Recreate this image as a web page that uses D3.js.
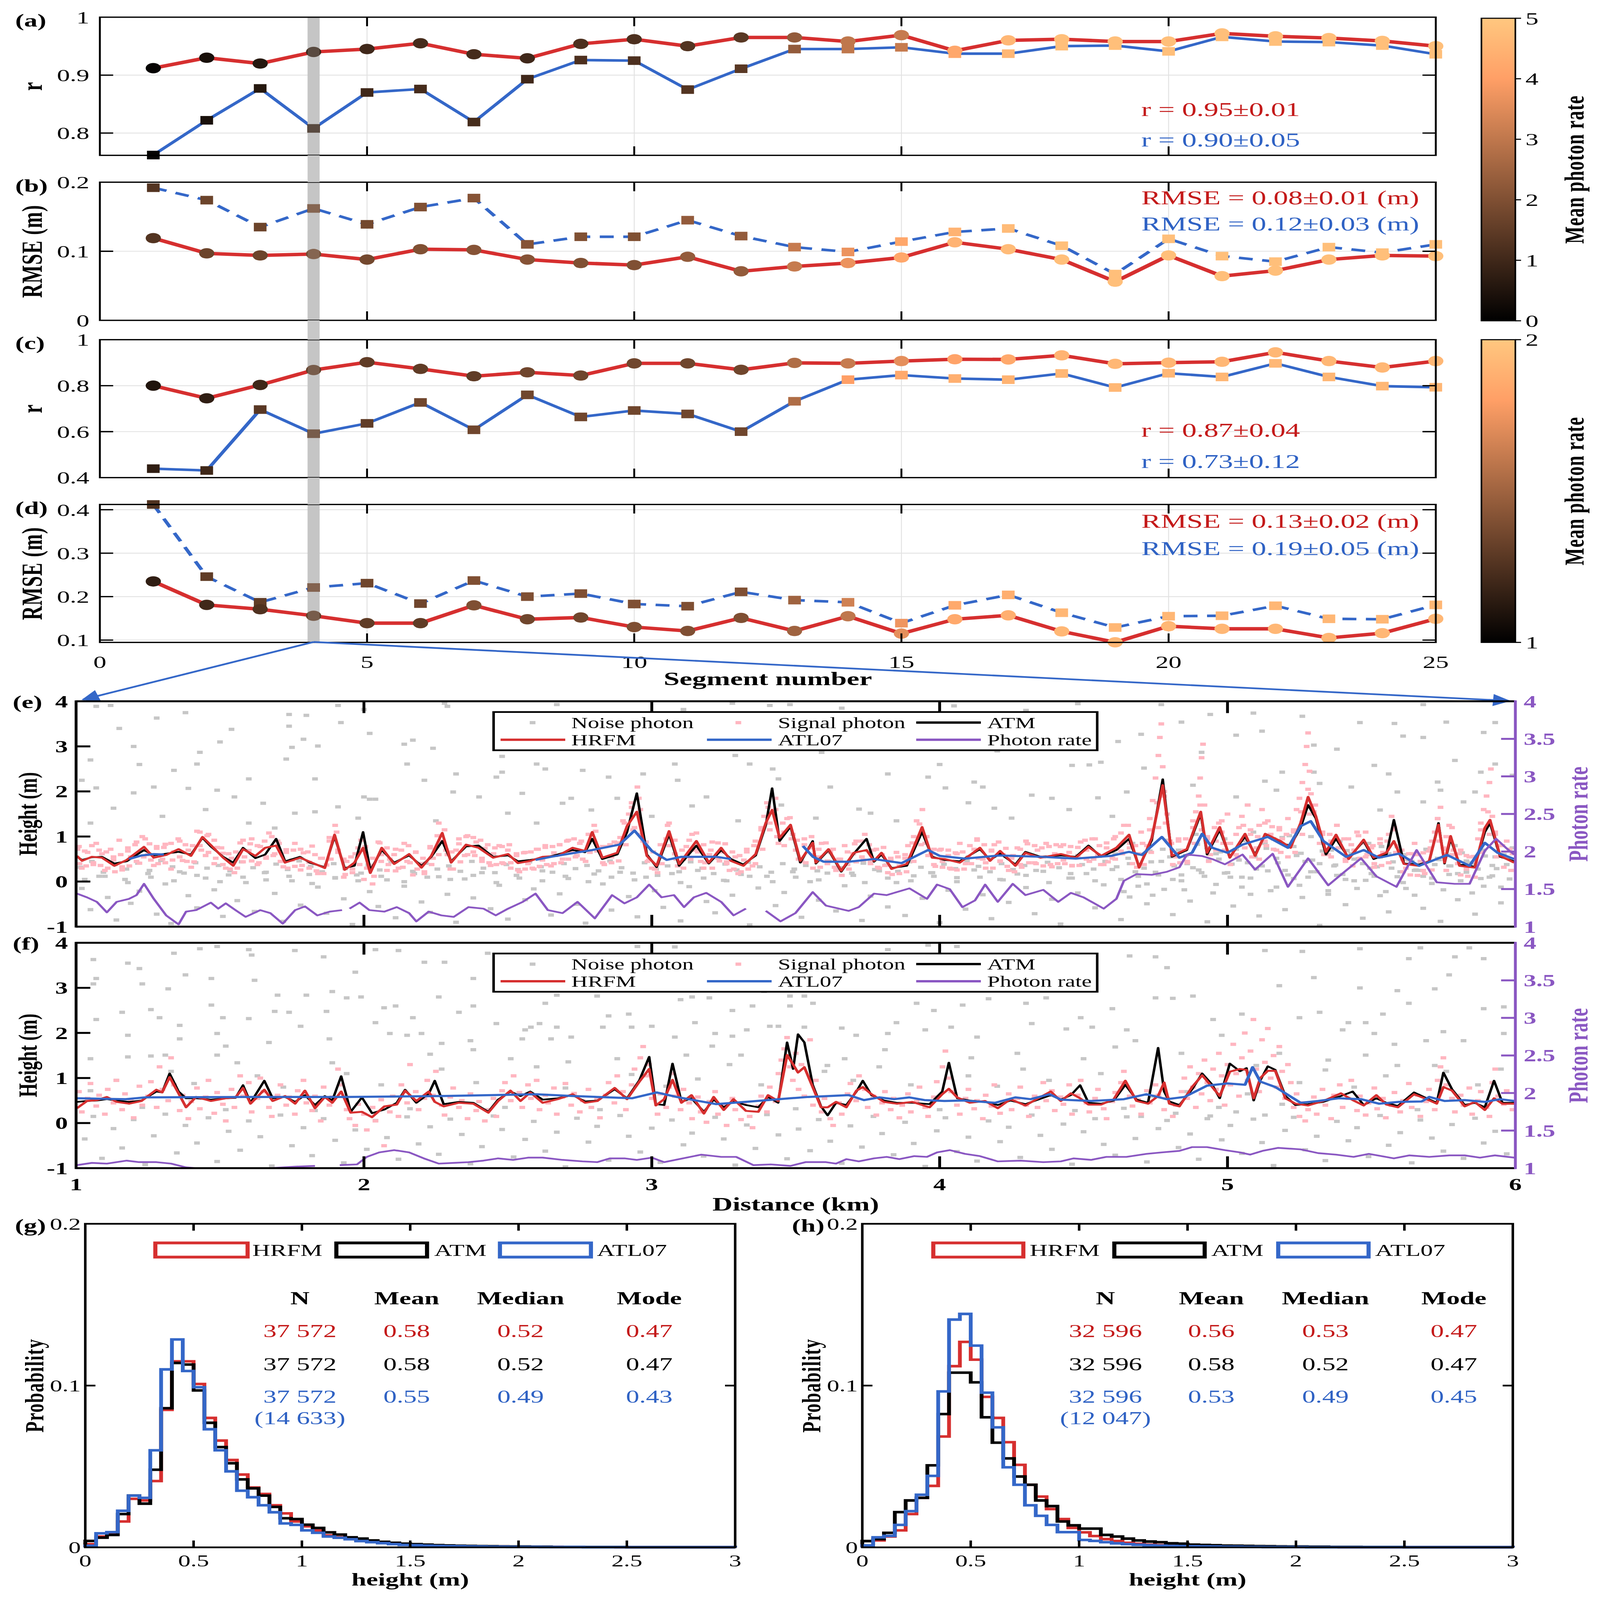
<!DOCTYPE html>
<html>
<head>
<meta charset="utf-8">
<script src="https://d3js.org/d3.v7.min.js"></script>
<style>
html,body{margin:0;padding:0;background:#fff;overflow:hidden;}
svg{display:block;width:100vw;height:100vh;font-family:"Liberation Serif","Times New Roman",serif;}
</style>
</head>
<body>
<div id="chart"></div>
<script>
// ---------------- data: segment statistics (a)-(d) ----------------
const segments = [1,2,3,4,5,6,7,8,9,10,11,12,13,14,15,16,17,18,19,20,21,22,23,24,25];

const rA_hrfm = [0.912,0.930,0.920,0.940,0.945,0.955,0.936,0.929,0.954,0.962,0.950,0.965,0.965,0.958,0.969,0.942,0.960,0.962,0.958,0.958,0.972,0.967,0.964,0.959,0.950];
const rA_atl  = [0.762,0.822,0.877,0.808,0.870,0.876,0.819,0.893,0.926,0.925,0.875,0.911,0.945,0.945,0.948,0.937,0.937,0.950,0.951,0.941,0.966,0.958,0.957,0.951,0.936];
const rmseB_hrfm = [0.119,0.097,0.094,0.096,0.088,0.103,0.102,0.088,0.083,0.080,0.092,0.071,0.078,0.083,0.091,0.113,0.103,0.088,0.056,0.094,0.064,0.072,0.088,0.094,0.093];
const rmseB_atl  = [0.192,0.174,0.135,0.162,0.139,0.164,0.177,0.110,0.121,0.121,0.145,0.122,0.106,0.099,0.114,0.128,0.133,0.108,0.067,0.118,0.093,0.085,0.106,0.098,0.110];
const rC_hrfm = [0.800,0.745,0.803,0.868,0.902,0.873,0.841,0.858,0.844,0.897,0.897,0.869,0.899,0.897,0.907,0.915,0.914,0.932,0.895,0.900,0.904,0.945,0.907,0.879,0.907];
const rC_atl  = [0.439,0.431,0.696,0.591,0.636,0.727,0.608,0.760,0.664,0.692,0.677,0.600,0.732,0.826,0.846,0.831,0.826,0.853,0.792,0.854,0.838,0.897,0.838,0.798,0.793];
const rmseD_hrfm = [0.235,0.181,0.171,0.156,0.139,0.139,0.180,0.148,0.152,0.130,0.121,0.151,0.121,0.155,0.115,0.148,0.157,0.120,0.095,0.132,0.126,0.126,0.105,0.116,0.149];
const rmseD_atl  = [0.412,0.246,0.187,0.221,0.231,0.184,0.237,0.200,0.207,0.183,0.178,0.211,0.192,0.187,0.139,0.180,0.204,0.163,0.129,0.155,0.156,0.179,0.149,0.148,0.181];

// mean photon rate per segment (marker colour)
const rateA = [0.1,0.4,0.6,0.9,1.0,1.1,1.1,1.0,1.2,1.2,1.3,1.4,2.3,3.0,3.1,4.2,4.6,4.8,4.8,4.8,4.8,4.8,4.8,4.8,4.8];
const rateB = [1.3,1.7,1.7,1.8,1.8,2.0,2.1,2.1,2.0,2.0,2.3,2.3,3.1,3.7,4.2,4.5,4.7,4.8,4.8,4.8,4.8,4.8,4.8,4.8,4.8];
const rateC_hrfm = [1.10,1.15,1.20,1.30,1.30,1.30,1.30,1.35,1.35,1.35,1.35,1.35,1.55,1.62,1.72,1.82,1.85,1.90,1.92,1.92,1.92,1.92,1.92,1.92,1.92];
const rateC_atl  = [1.15,1.20,1.28,1.30,1.30,1.35,1.35,1.35,1.35,1.35,1.35,1.35,1.55,1.80,1.85,1.88,1.90,1.92,1.92,1.92,1.92,1.92,1.92,1.92,1.92];
const rateD_hrfm = [1.15,1.20,1.25,1.30,1.30,1.30,1.40,1.35,1.35,1.40,1.40,1.40,1.50,1.60,1.72,1.85,1.88,1.92,1.92,1.92,1.92,1.92,1.92,1.92,1.92];
const rateD_atl  = [1.25,1.30,1.30,1.35,1.35,1.35,1.40,1.40,1.40,1.40,1.40,1.40,1.50,1.65,1.75,1.85,1.88,1.92,1.92,1.92,1.92,1.92,1.92,1.92,1.92];

// ---------------- data: profile (e) ----------------
const eDist = [1.003,1.021,1.055,1.090,1.133,1.176,1.236,1.270,1.313,1.356,
  1.399,1.439,1.468,1.511,1.546,1.580,1.623,1.657,1.695,1.726,
  1.778,1.812,1.864,1.898,1.933,1.967,1.997,2.022,2.062,2.105,
  2.157,2.200,2.234,2.272,2.303,2.355,2.398,2.449,2.501,2.535,
  2.578,2.621,2.673,2.725,2.768,2.793,2.828,2.880,2.914,2.948,
  2.983,3.017,3.060,3.095,3.155,3.198,3.241,3.275,3.318,3.361,
  3.396,3.418,3.444,3.482,3.516,3.559,3.570,3.614,3.658,3.702,
  3.746,3.772,3.798,3.833,3.886,3.939,3.974,4.017,4.070,4.140,
  4.175,4.210,4.263,4.298,4.351,4.421,4.473,4.517,4.561,4.614,
  4.658,4.693,4.737,4.775,4.807,4.859,4.907,4.929,4.973,5.008,
  5.061,5.096,5.131,5.184,5.219,5.254,5.280,5.307,5.342,5.377,
  5.421,5.473,5.508,5.552,5.578,5.613,5.666,5.701,5.733,5.754,
  5.775,5.806,5.859,5.894,5.912,5.947,5.996];
const eHRFM = [0.57,0.46,0.55,0.53,0.35,0.48,0.77,0.53,0.59,0.72,
  0.57,0.99,0.81,0.53,0.35,0.72,0.57,0.75,0.80,0.42,
  0.53,0.44,0.30,1.04,0.26,0.42,0.75,0.19,0.75,0.39,
  0.61,0.31,0.57,1.08,0.42,0.82,0.75,0.53,0.61,0.41,
  0.46,0.55,0.57,0.75,0.68,1.10,0.53,0.64,1.23,1.55,
  0.57,0.35,1.12,0.39,0.90,0.42,0.75,0.46,0.35,0.61,
  1.30,1.59,0.97,1.26,0.46,0.86,0.42,0.72,0.24,0.64,
  0.70,0.46,0.64,0.28,0.39,1.21,0.53,0.50,0.42,0.75,
  0.46,0.68,0.35,0.64,0.53,0.61,0.53,0.77,0.57,0.75,
  1.04,0.31,0.97,2.14,0.57,0.72,1.55,0.64,1.21,0.53,
  1.06,0.57,1.06,0.90,0.75,1.30,1.88,1.45,0.66,1.04,
  0.50,0.93,0.53,0.64,0.90,0.39,0.35,0.46,1.26,0.42,
  1.01,0.35,0.31,1.19,1.37,0.57,0.42];
const eATM = [0.55,0.48,0.54,0.55,0.40,0.45,0.70,0.58,0.62,0.66,
  0.60,0.97,0.78,0.55,0.42,0.75,0.52,0.60,0.95,0.45,
  0.55,0.42,0.32,1.00,0.30,0.35,1.10,0.25,0.70,0.42,
  0.58,0.35,0.55,0.90,0.45,0.78,0.80,0.55,0.58,0.45,
  0.48,0.52,0.60,0.70,0.65,0.95,0.50,0.60,1.10,1.96,
  0.60,0.32,1.05,0.35,0.80,0.40,0.70,0.50,0.38,0.58,
  1.25,2.07,0.90,1.22,0.42,0.90,0.40,0.70,0.22,0.62,
  0.95,0.44,0.60,0.30,0.35,1.10,0.55,0.48,0.45,0.72,
  0.48,0.62,0.38,0.66,0.55,0.58,0.55,0.80,0.55,0.70,
  0.95,0.33,0.92,2.27,0.55,0.70,1.50,0.60,1.15,0.55,
  1.00,0.60,1.05,0.85,0.80,1.20,1.70,1.40,0.60,0.95,
  0.52,0.90,0.50,0.60,1.37,0.40,0.38,0.45,1.30,0.40,
  0.95,0.38,0.33,1.10,1.30,0.55,0.45];
const eAtlDist = [1.184,1.227,1.270,1.305,1.900,
  2.596,2.650,2.707,2.793,2.888,2.940,3.000,3.052,3.103,3.224,3.275,3.400,
  3.525,3.560,3.597,3.684,3.772,3.868,3.960,4.000,4.088,4.210,
  4.351,4.473,4.596,4.658,4.702,4.772,4.833,4.877,4.912,4.947,
  5.000,5.052,5.140,5.210,5.254,5.289,5.333,5.412,5.473,5.526,
  5.596,5.666,5.763,5.841,5.894,5.938,5.996];
const eAtl = [0.50,0.58,0.61,0.60,null,
  0.48,0.55,0.61,0.70,0.82,1.13,0.68,0.48,0.55,0.55,0.50,null,
  0.79,0.55,0.44,0.44,0.50,0.41,0.70,0.57,0.51,0.58,
  0.55,0.51,0.57,0.66,0.59,0.99,0.53,0.64,1.06,0.75,
  0.64,0.82,0.99,0.75,1.23,1.34,0.90,0.55,0.70,0.53,
  0.62,0.35,0.59,0.35,0.86,0.64,0.50];
const eRateDist = [1.003,1.038,1.072,1.107,1.141,1.184,1.210,1.236,1.270,1.313,
  1.356,1.382,1.417,1.468,1.494,1.520,1.554,1.589,1.640,1.675,
  1.718,1.761,1.795,1.838,1.881,1.924,1.937,1.950,1.985,2.019,
  2.071,2.114,2.157,2.182,2.225,2.269,2.312,2.363,2.415,2.458,
  2.501,2.552,2.596,2.639,2.690,2.742,2.802,2.862,2.905,2.948,
  2.991,3.034,3.077,3.112,3.146,3.189,3.241,3.284,3.327,3.360,
  3.396,3.447,3.499,3.559,3.605,3.684,3.719,3.772,3.816,3.895,
  3.956,3.991,4.035,4.079,4.123,4.158,4.202,4.254,4.298,4.360,
  4.412,4.456,4.500,4.570,4.614,4.640,4.684,4.737,4.789,4.833,
  4.859,4.912,4.947,4.991,5.052,5.096,5.157,5.210,5.280,5.350,
  5.403,5.464,5.517,5.587,5.657,5.727,5.789,5.841,5.894,5.933,
  5.973,5.996];
const eRate = [1.44,1.39,1.33,1.19,1.33,1.37,1.42,1.57,1.37,1.15,
  1.03,1.20,1.22,1.32,1.24,1.31,1.22,1.13,1.22,1.18,
  1.04,1.22,1.27,1.15,1.20,1.22,null,1.24,1.32,1.22,
  1.20,1.26,1.18,1.07,1.20,1.15,1.13,1.26,1.24,1.15,
  1.24,1.33,1.44,1.22,1.18,1.33,1.11,1.42,1.31,1.39,
  1.56,1.39,1.42,1.26,1.39,1.45,1.33,1.15,1.24,null,
  1.21,1.07,1.18,1.46,1.28,1.21,1.26,1.44,1.42,1.51,
  1.37,1.56,1.50,1.26,1.35,1.56,1.33,1.57,1.42,1.49,
  1.33,1.45,1.39,1.24,1.37,1.61,1.70,1.69,1.73,1.79,
  1.96,1.94,1.90,1.83,1.96,1.76,1.97,1.53,1.91,1.55,
  1.72,1.91,1.67,1.53,2.02,1.59,1.57,1.57,2.01,2.17,
  2.03,1.96];

const eNoise = [[1.07,3.89],[1.12,3.91],[1.28,3.63],[1.54,3.38],[1.74,3.71],[1.80,3.69],[1.91,3.91],[1.92,3.53],[1.74,3.45],[1.84,3.01],[1.79,3.16],[1.75,2.98],[1.43,2.87],[1.42,2.61],[1.34,2.47],[1.20,3.00],[1.60,2.28],[1.83,2.28],[1.73,2.72],[2.02,3.29],[2.14,3.05],[2.17,3.14],[2.24,2.96],[2.29,3.89],[2.28,3.96],[2.00,3.82],[2.15,2.61],[2.21,2.25],[2.32,2.39],[2.46,2.32],[2.48,2.43],[2.60,2.61],[2.63,2.50],[2.76,2.47],[2.85,2.32],[2.97,2.39],[3.08,2.61],[3.14,3.42],[3.28,3.96],[3.41,3.91],[3.48,3.93],[3.29,2.80],[3.34,2.61],[3.42,2.50],[3.44,2.28],[3.59,2.87],[3.54,3.47],[3.11,3.82],[2.67,3.93],[2.48,2.78],[2.50,1.52],[2.69,1.74],[2.72,1.85],[3.19,1.88],[3.09,2.25],[3.14,1.68],[2.02,1.83],[2.04,1.83],[1.98,1.41],[1.91,1.66],[2.00,1.88],[1.65,1.74],[1.69,1.19],[1.27,2.10],[1.07,2.08],[1.02,2.25],[1.20,1.97],[1.13,1.63],[1.39,2.07],[1.49,2.03],[1.55,1.88],[1.83,1.55],[1.76,1.52],[2.31,1.99],[2.40,1.88],[2.55,1.96],[2.79,1.59],[2.88,1.85],
  [4.77,3.93],[4.84,3.54],[4.94,3.71],[5.09,3.74],[5.26,3.67],[5.46,3.53],[5.58,3.51],[5.68,3.93],[5.76,3.54],[5.93,3.53],[5.89,3.31],[5.68,3.20],[5.61,3.23],[5.30,3.03],[5.38,2.94],[5.12,3.34],[5.03,3.25],[4.70,3.27],[4.62,3.11],[4.46,2.58],[4.52,2.59],[4.56,2.65],[4.71,2.52],[4.91,2.87],[5.19,2.43],[5.30,2.43],[5.51,2.58],[5.56,2.39],[5.79,2.69],[5.93,2.61],[5.88,2.43],[5.99,2.36],[3.82,2.39],[3.96,2.32],[4.02,2.08],[4.15,2.10],[4.12,2.21],[4.32,1.92],[4.39,1.85],[4.19,1.63],[4.25,1.41],[3.72,1.61],[3.76,1.52],[3.57,1.41],[4.55,1.86],[4.65,1.99],[4.88,2.14],[5.13,2.23],[5.17,2.03],[5.32,2.18],[5.43,2.10],[5.73,2.21],[5.74,2.03],[5.86,1.99],[5.82,1.77],[5.68,1.77],[5.59,1.99],[5.03,1.88],[5.07,1.70],[5.53,1.59],
  [3.66,3.85],[3.90,3.62],[4.05,3.90],[4.30,3.80],[4.48,3.95],[3.70,2.95],[4.00,2.60],[4.40,3.20],[4.20,2.90],[3.62,2.10],[4.10,1.75],[4.45,1.60],[3.85,1.35],[4.60,1.45],[1.30,1.45],[1.60,1.30],[2.25,1.35],[2.60,1.30],[3.00,1.45],[3.30,1.35],[3.45,1.70],[1.05,1.30],[1.45,1.60],[2.90,3.00],[1.15,3.40],[1.38,3.75],[1.05,2.70],[1.22,2.60],[1.50,3.10],
  [1.02,-0.15],[1.05,-0.62],[1.08,0.12],[1.11,-0.35],[1.14,-0.85],[1.17,0.05],[1.19,-0.48],[1.22,-0.21],[1.25,0.18],[1.28,-0.72],[1.31,-0.05],[1.33,-0.93],[1.36,0.22],[1.39,-0.31],[1.42,-0.58],[1.45,0.08],[1.48,-0.18],[1.51,-0.77],[1.53,0.15],[1.56,-0.42],[1.59,-0.02],[1.62,-0.66],[1.66,0.21],[1.69,-0.26],[1.72,-0.88],[1.75,0.02],[1.78,-0.52],[1.81,0.16],[1.84,-0.12],[1.87,-0.70],[1.90,0.09],[1.93,-0.38],[1.96,-0.95],[1.99,0.19],[2.02,-0.22],[2.05,-0.55],[2.08,0.04],[2.11,-0.80],[2.14,-0.10],[2.17,0.23],[2.20,-0.45],[2.23,-0.68],[2.26,0.11],[2.29,-0.28],[2.32,-0.90],[2.35,0.06],[2.38,-0.36],[2.41,0.20],[2.44,-0.60],[2.47,-0.08],[2.50,-0.83],[2.53,0.14],[2.56,-0.40],[2.59,-0.16],[2.62,0.24],[2.65,-0.74],[2.68,-0.27],[2.71,0.07],[2.74,-0.50],[2.77,-0.92],[2.80,0.17],[2.83,-0.05],[2.86,-0.63],[2.89,0.21],[2.92,-0.33],[2.95,-0.78],[2.98,0.10],[3.01,-0.20],[3.04,-0.57],[3.07,0.18],[3.10,-0.87],[3.13,-0.11],[3.16,0.25],[3.19,-0.44],[3.22,-0.69],[3.25,0.03],[3.28,-0.30],[3.31,0.16],[3.34,-0.96],[3.37,-0.14],[3.40,0.12],[3.43,-0.53],[3.46,-0.24],[3.49,0.22],[3.52,-0.79],[3.55,0.00],[3.58,-0.41],[3.61,0.19],[3.64,-0.65],[3.67,-0.09],[3.70,0.14],[3.73,-0.86],[3.76,-0.32],[3.79,0.24],[3.82,-0.56],[3.85,-0.02],[3.88,-0.75],[3.91,0.13],[3.94,-0.37],[3.97,0.20],[4.00,-0.91],[4.03,-0.19],[4.06,0.09],[4.09,-0.61],[4.12,0.26],[4.15,-0.29],[4.18,-0.82],[4.21,0.05],[4.24,-0.46],[4.27,0.17],[4.30,-0.13],[4.33,-0.71],[4.36,0.23],[4.39,-0.39],[4.42,-0.94],[4.45,0.08],[4.48,-0.25],[4.51,0.18],[4.54,-0.58],[4.57,-0.07],[4.60,0.27],[4.63,-0.84],[4.66,-0.34],[4.69,0.12],[4.72,-0.49],[4.75,0.21],[4.78,-0.17],[4.81,-0.73],[4.84,0.15],[4.87,-0.43],[4.90,0.26],[4.93,-0.89],[4.96,-0.06],[4.99,0.19],[5.02,-0.54],[5.05,0.10],[5.08,-0.28],[5.11,-0.76],[5.14,0.24],[5.17,-0.12],[5.20,-0.62],[5.23,0.07],[5.26,-0.35],[5.29,0.22],[5.32,-0.97],[5.35,-0.20],[5.38,0.14],[5.41,-0.51],[5.44,0.02],[5.47,-0.81],[5.50,0.18],[5.53,-0.31],[5.56,-0.67],[5.59,0.11],[5.62,-0.15],[5.65,0.25],[5.68,-0.59],[5.71,-0.04],[5.74,-0.88],[5.77,0.16],[5.80,-0.40],[5.83,0.21],[5.86,-0.72],[5.89,-0.10],[5.92,0.13],[5.95,-0.47],[5.98,0.06],
  [1.015,0.32],[1.055,0.45],[1.095,0.21],[1.135,0.38],[1.175,0.28],[1.215,0.41],[1.255,0.25],[1.295,0.47],[1.335,0.33],[1.375,0.19],[1.415,0.42],[1.455,0.30],[1.495,0.36],[1.535,0.24],[1.575,0.44],[1.615,0.31],[1.655,0.20],[1.695,0.39],[1.735,0.27],[1.775,0.46],[1.815,0.34],[1.855,0.22],[1.895,0.40],[1.935,0.29],[1.975,0.15],[2.015,0.37],[2.055,0.26],[2.095,0.43],[2.135,0.32],[2.175,0.18],[2.215,0.41],[2.255,0.28],[2.295,0.35],[2.335,0.23],[2.375,0.45],[2.415,0.30],[2.455,0.20],[2.495,0.38],[2.535,0.27],[2.575,0.44],[2.615,0.33],[2.655,0.21],[2.695,0.40],[2.735,0.29],[2.775,0.36],[2.815,0.24],[2.855,0.46],[2.895,0.31],[2.935,0.19],[2.975,0.42],[3.015,0.28],[3.055,0.35],[3.095,0.22],[3.135,0.44],[3.175,0.30],[3.215,0.18],[3.255,0.39],[3.295,0.26],[3.335,0.43],[3.375,0.33],[3.415,0.21],[3.455,0.40],[3.495,0.28],[3.535,0.36],[3.575,0.24],[3.615,0.45],[3.655,0.31],[3.695,0.19],[3.735,0.41],[3.775,0.27],[3.815,0.37],[3.855,0.23],[3.895,0.44],[3.935,0.32],[3.975,0.20],[4.015,0.39],[4.055,0.29],[4.095,0.46],[4.135,0.34],[4.175,0.22],[4.215,0.40],[4.255,0.27],[4.295,0.36],[4.335,0.25],[4.375,0.43],[4.415,0.31],[4.455,0.18],[4.495,0.38],[4.535,0.28],[4.575,0.45],[4.615,0.33],[4.655,0.52],[4.695,0.61],[4.735,0.44],[4.775,0.72],[4.815,0.35],[4.855,0.58],[4.895,0.83],[4.935,0.47],[4.975,0.66],[5.015,0.39],[5.055,0.91],[5.095,0.55],[5.135,0.74],[5.175,0.42],[5.215,1.02],[5.255,0.63],[5.295,0.48],[5.335,0.85],[5.375,0.37],[5.415,0.69],[5.455,0.51],[5.495,0.30],[5.535,0.78],[5.575,0.44],[5.615,0.60],[5.655,0.26],[5.695,0.71],[5.735,0.49],[5.775,0.35],[5.815,0.64],[5.855,0.41],[5.895,0.57],[5.935,0.29],[5.975,0.52],
  [4.63,0.05],[4.68,0.22],[4.72,-0.05],[4.76,0.15],[4.80,0.55],[4.84,0.02],[4.88,0.31],[4.92,0.12],[4.96,0.62],[5.00,0.20],[5.04,0.48],[5.08,0.08],[5.12,0.35],[5.16,0.95],[5.20,0.25],[5.24,0.58],[5.28,0.10],[5.32,0.40],[5.36,0.70],[5.40,0.16],[5.44,0.50],[5.48,0.03],[5.52,0.33],[5.56,0.62],[5.60,0.22],[5.64,0.45],[5.68,0.12],[5.72,0.38],[5.76,0.58],[5.80,0.18],[5.84,0.42],[5.88,0.07],[5.92,0.36],[5.96,0.60],
  [4.61,0.62],[4.64,-0.22],[4.66,0.40],[4.67,0.85],[4.69,-0.10],[4.71,0.30],[4.73,0.68],[4.74,-0.30],[4.77,0.45],[4.79,0.92],[4.81,0.05],[4.83,0.70],[4.85,-0.18],[4.86,0.40],[4.89,1.05],[4.91,0.20],[4.93,0.75],[4.95,-0.25],[4.97,0.50],[4.99,0.95],[5.01,0.10],[5.03,0.72],[5.05,-0.12],[5.07,0.42],[5.09,1.10],[5.10,0.28],[5.13,0.85],[5.15,-0.20],[5.17,0.52],[5.19,0.98],[5.21,0.15],[5.23,0.78],[5.25,-0.08],[5.27,0.45],[5.29,1.00],[5.31,0.22],[5.33,0.68],[5.35,-0.28],[5.37,0.35],[5.39,0.90],[5.41,0.05],[5.43,0.62],[5.45,-0.15],[5.47,0.40],[5.49,0.85],[5.51,0.12],[5.53,0.55],[5.55,-0.22],[5.57,0.30],[5.59,0.78],[5.61,-0.02],[5.63,0.48],[5.65,-0.30],[5.67,0.25],[5.69,0.72],[5.71,0.08],[5.73,0.52],[5.75,-0.18],[5.77,0.35],[5.79,0.80],[5.81,0.02],[5.83,0.46],[5.85,-0.25],[5.87,0.28],[5.89,0.70],[5.91,0.10],[5.93,0.55],[5.95,-0.12],[5.97,0.38],[5.99,0.75],
  [1.03,0.05],[1.10,0.12],[1.18,-0.02],[1.26,0.10],[1.34,0.02],[1.42,0.14],[1.50,0.00],[1.58,0.10],[1.66,0.04],[1.74,0.12],[1.82,-0.04],[1.90,0.08],[1.98,0.02],[2.06,0.12],[2.14,0.00],[2.22,0.10],[2.30,0.05],[2.38,0.14],[2.46,-0.02],[2.54,0.08],[2.62,0.02],[2.70,0.12],[2.78,0.00],[2.86,0.10],[2.94,0.04],[3.02,0.14],[3.10,-0.02],[3.18,0.08],[3.26,0.02],[3.34,0.12],[3.42,0.00],[3.50,0.10],[3.58,0.04],[3.66,0.14],[3.74,-0.02],[3.82,0.08],[3.90,0.02],[3.98,0.12],[4.06,0.00],[4.14,0.10],[4.22,0.04],[4.30,0.14],[4.38,-0.02],[4.46,0.08],[4.54,0.02]];

const eSignal = [[1.01,0.78],[1.02,0.30],[1.04,0.65],[1.06,0.38],[1.07,0.85],[1.09,0.62],[1.10,0.25],[1.12,0.72],[1.13,0.48],[1.15,0.92],[1.16,0.33],[1.18,0.68],[1.19,0.55],[1.21,0.88],[1.22,0.41],[1.24,0.95],[1.25,0.60],[1.27,0.36],[1.28,0.74],[1.30,0.50],[1.31,0.83],[1.33,0.28],[1.34,0.66],[1.36,0.90],[1.37,0.47],[1.39,0.70],[1.40,0.32],[1.42,1.12],[1.43,0.80],[1.45,0.58],[1.46,1.05],[1.48,0.40],[1.49,0.76],[1.51,0.63],[1.52,0.30],[1.54,0.52],[1.55,0.20],[1.57,0.86],[1.58,0.44],[1.60,0.69],[1.61,0.95],[1.63,0.38],[1.64,0.78],[1.66,0.55],[1.67,1.08],[1.69,0.62],[1.70,0.90],[1.72,0.33],[1.73,0.71],[1.75,0.48],[1.76,0.85],[1.78,0.26],[1.79,0.64],[1.81,0.43],[1.82,0.79],[1.84,0.18],[1.85,0.52],[1.87,0.37],[1.88,0.98],[1.90,1.25],[1.91,0.70],[1.93,0.10],[1.94,0.45],[1.96,0.28],[1.97,0.62],[1.99,0.92],[2.00,0.05],[2.02,0.35],[2.03,-0.05],[2.05,0.88],[2.06,0.60],[2.08,0.25],[2.09,0.50],[2.11,0.72],[2.12,0.30],[2.14,0.85],[2.15,0.45],[2.17,0.15],[2.18,0.66],[2.20,0.40],[2.21,0.22],[2.23,0.78],[2.24,0.52],[2.26,1.30],[2.27,0.90],[2.29,0.60],[2.30,0.28],[2.32,0.70],[2.33,0.95],[2.35,0.58],[2.36,1.02],[2.38,0.66],[2.39,0.88],[2.41,0.45],[2.42,0.74],[2.44,0.36],[2.45,0.62],[2.47,0.80],[2.48,0.42],[2.50,0.70],[2.51,0.30],[2.53,0.58],[2.54,0.22],[2.56,0.65],[2.57,0.40],[2.59,0.28],[2.60,0.72],[2.62,0.48],[2.63,0.80],[2.65,0.35],[2.66,0.64],[2.68,0.82],[2.69,0.50],[2.71,0.92],[2.72,0.66],[2.74,0.58],[2.75,0.85],[2.77,0.45],[2.78,1.05],[2.80,1.25],[2.81,0.70],[2.83,0.42],[2.84,0.78],[2.86,0.55],[2.87,0.88],[2.89,0.98],[2.90,1.35],[2.92,1.50],[2.93,1.75],[2.94,1.20],[2.95,2.10],[2.96,1.60],[2.97,0.90],[2.99,0.48],[3.00,0.30],[3.02,0.20],[3.03,0.55],[3.05,0.95],[3.06,1.30],[3.08,0.62],[3.09,0.35],[3.11,0.50],[3.12,0.78],[3.14,1.05],[3.15,0.70],[3.17,0.45],[3.18,0.30],[3.20,0.60],[3.21,0.88],[3.23,0.52],[3.24,0.66],[3.26,0.40],[3.27,0.25],[3.29,0.55],[3.30,0.18],[3.32,0.48],[3.33,0.72],[3.35,0.35],[3.36,0.90],[3.38,1.20],[3.39,1.45],[3.40,1.75],[3.41,1.30],[3.43,1.85],[3.44,0.85],[3.46,1.10],[3.47,1.40],[3.49,1.05],[3.50,0.70],[3.52,0.45],[3.53,0.95],[3.55,0.75],[3.56,0.30],[3.58,0.55],[3.59,0.85],[3.61,0.40],[3.62,0.65],[3.64,0.25],[3.65,0.50],[3.67,0.80],[3.68,0.38],[3.70,0.62],[3.71,0.90],[3.73,0.55],[3.74,1.05],[3.76,0.45],[3.77,0.70],[3.79,0.30],[3.80,0.60],[3.82,0.20],[3.83,0.48],[3.85,0.65],[3.86,0.35],[3.88,0.52],[3.89,0.80],[3.91,1.00],[3.92,1.35],[3.94,1.60],[3.95,0.85],[3.97,0.60],[3.98,0.38],[4.00,0.70],[4.01,0.45],[4.03,0.58],[4.04,0.28],[4.06,0.62],[4.07,0.85],[4.09,0.40],[4.10,0.55],[4.12,0.72],[4.13,0.95],[4.15,0.50],[4.16,0.30],[4.18,0.68],[4.19,0.82],[4.21,0.45],[4.22,0.60],[4.24,0.25],[4.25,0.52],[4.27,0.75],[4.28,0.38],[4.30,0.90],[4.31,0.58],[4.33,0.42],[4.34,0.70],[4.36,0.55],[4.37,0.85],[4.39,0.33],[4.40,0.62],[4.42,0.78],[4.43,0.48],[4.45,0.65],[4.46,0.35],[4.48,0.58],[4.49,0.88],[4.51,0.70],[4.52,0.45],[4.54,0.95],[4.55,0.60],[4.57,0.38],[4.58,0.75],[4.60,0.52],[4.61,1.00],[4.63,0.68],[4.64,1.25],[4.66,0.85],[4.67,0.40],[4.69,0.62],[4.70,1.10],[4.72,0.80],[4.73,1.40],[4.74,1.80],[4.75,2.30],[4.76,2.80],[4.765,3.20],[4.77,3.50],[4.775,2.55],[4.78,2.00],[4.79,1.50],[4.80,0.90],[4.82,0.55],[4.83,0.95],[4.85,0.70],[4.86,0.42],[4.88,1.20],[4.89,1.55],[4.90,1.90],[4.905,2.30],[4.91,2.75],[4.915,3.05],[4.92,1.70],[4.93,1.00],[4.94,0.60],[4.96,0.90],[4.97,1.30],[4.98,1.10],[4.99,0.70],[5.00,1.50],[5.01,0.85],[5.03,0.60],[5.04,1.20],[5.05,1.45],[5.06,0.95],[5.07,1.70],[5.08,1.15],[5.10,0.75],[5.11,1.25],[5.12,1.60],[5.13,0.90],[5.14,1.35],[5.15,1.05],[5.17,0.70],[5.18,1.20],[5.19,0.95],[5.21,1.40],[5.22,0.80],[5.23,1.10],[5.24,1.60],[5.25,1.85],[5.26,2.20],[5.27,2.60],[5.275,3.00],[5.28,3.30],[5.285,2.45],[5.29,1.95],[5.30,1.55],[5.31,1.20],[5.32,0.85],[5.33,1.05],[5.35,0.60],[5.36,0.90],[5.38,1.25],[5.39,0.75],[5.41,0.50],[5.42,0.95],[5.44,0.70],[5.45,1.10],[5.47,0.85],[5.48,0.55],[5.50,0.75],[5.51,0.40],[5.53,0.95],[5.54,0.65],[5.56,1.05],[5.57,1.45],[5.58,1.20],[5.59,0.80],[5.61,0.50],[5.62,0.30],[5.64,0.62],[5.65,0.85],[5.67,0.45],[5.68,0.25],[5.70,0.68],[5.71,0.90],[5.72,1.10],[5.73,1.40],[5.74,1.65],[5.75,0.75],[5.76,1.00],[5.77,1.25],[5.78,0.60],[5.80,0.40],[5.81,0.70],[5.83,0.28],[5.84,0.55],[5.86,0.45],[5.87,0.95],[5.88,1.30],[5.89,1.60],[5.90,1.90],[5.91,2.20],[5.915,2.50],[5.92,1.45],[5.93,1.10],[5.94,0.80],[5.96,0.55],[5.97,0.90],[5.99,0.62]];

// second pass over the dense pink band of (e)
const eSignalBand = [[1.005,0.72],[1.012,0.40],[1.03,0.68],[1.035,0.35],[1.055,0.80],[1.06,0.42],[1.08,0.70],[1.085,0.36],[1.105,0.66],[1.11,0.30],[1.13,0.55],[1.135,0.22],[1.155,0.60],[1.16,0.26],[1.18,0.75],[1.185,0.35],[1.205,0.82],[1.21,0.45],[1.23,1.00],[1.235,0.55],[1.255,0.84],[1.26,0.48],[1.28,0.78],[1.285,0.40],[1.305,0.76],[1.31,0.42],[1.33,0.85],[1.335,0.48],[1.355,0.95],[1.36,0.55],[1.38,0.82],[1.385,0.45],[1.405,0.80],[1.41,0.44],[1.43,1.10],[1.435,0.70],[1.455,1.02],[1.46,0.65],[1.48,0.92],[1.485,0.52],[1.505,0.75],[1.51,0.38],[1.53,0.62],[1.535,0.28],[1.555,0.66],[1.56,0.30],[1.58,0.92],[1.585,0.55],[1.605,0.84],[1.61,0.46],[1.63,0.80],[1.635,0.42],[1.655,0.90],[1.66,0.52],[1.68,1.00],[1.685,0.58],[1.705,0.85],[1.71,0.45],[1.73,0.65],[1.735,0.30],[1.755,0.70],[1.76,0.34],[1.78,0.72],[1.785,0.36],[1.805,0.66],[1.81,0.30],[1.83,0.60],[1.835,0.24],[1.855,0.52],[1.86,0.18],[1.88,0.90],[1.885,0.50],[1.905,1.10],[1.91,0.65],[1.93,0.50],[1.935,0.16],[1.955,0.55],[1.96,0.20],[1.98,0.75],[1.985,0.38],[2.005,0.78],[2.01,0.30],[2.03,0.52],[2.035,0.12],[2.055,0.86],[2.06,0.45],[2.08,0.75],[2.085,0.38],[2.105,0.60],[2.11,0.24],[2.13,0.70],[2.135,0.32],[2.155,0.80],[2.16,0.42],[2.18,0.65],[2.185,0.28],[2.205,0.52],[2.21,0.18],[2.23,0.75],[2.235,0.38],[2.255,1.02],[2.26,0.60],[2.28,1.15],[2.285,0.70],[2.305,0.66],[2.31,0.28],[2.33,0.84],[2.335,0.44],[2.355,1.00],[2.36,0.60],[2.38,0.98],[2.385,0.58],[2.405,0.92],[2.41,0.52],[2.43,0.82],[2.435,0.42],[2.455,0.75],[2.46,0.38],[2.48,0.78],[2.485,0.40],[2.505,0.82],[2.51,0.42],[2.53,0.62],[2.535,0.26],[2.555,0.64],[2.56,0.28],[2.58,0.66],[2.585,0.30],[2.605,0.72],[2.61,0.34],[2.63,0.76],[2.635,0.38],[2.655,0.78],[2.66,0.40],[2.68,0.82],[2.685,0.42],[2.705,0.90],[2.71,0.50],[2.73,0.95],[2.735,0.55],[2.755,0.90],[2.76,0.50],[2.78,1.05],[2.785,0.65],[2.805,1.12],[2.81,0.68],[2.83,0.78],[2.835,0.38],[2.855,0.82],[2.86,0.42],[2.88,0.86],[2.885,0.46],[2.905,1.30],[2.91,0.82],[2.93,1.65],[2.935,1.15],[2.955,1.85],[2.96,1.05],[2.98,0.88],[2.985,0.45],[3.005,0.66],[3.01,0.28],[3.03,0.82],[3.035,0.40],[3.055,1.25],[3.06,0.80],[3.08,0.92],[3.085,0.50],[3.105,0.70],[3.11,0.30],[3.13,0.92],[3.135,0.50],[3.155,1.08],[3.16,0.66],[3.18,0.82],[3.185,0.42],[3.205,0.70],[3.21,0.30],[3.23,0.86],[3.235,0.46],[3.255,0.84],[3.26,0.44],[3.28,0.66],[3.285,0.28],[3.305,0.58],[3.31,0.22],[3.33,0.66],[3.335,0.28],[3.355,0.80],[3.36,0.40],[3.38,1.15],[3.385,0.72],[3.405,1.65],[3.41,1.15],[3.43,1.60],[3.435,1.00],[3.455,1.30],[3.46,0.80],[3.48,1.42],[3.485,0.95],[3.505,0.92],[3.51,0.50],[3.53,0.82],[3.535,0.42],[3.555,1.00],[3.56,0.60],[3.58,0.72],[3.585,0.32],[3.605,0.86],[3.61,0.46],[3.63,0.72],[3.635,0.32],[3.655,0.50],[3.66,0.14],[3.68,0.66],[3.685,0.28],[3.705,0.84],[3.71,0.44],[3.73,0.90],[3.735,0.48],[3.755,0.82],[3.76,0.40],[3.78,0.72],[3.785,0.32],[3.805,0.76],[3.81,0.36],[3.83,0.52],[3.835,0.16],[3.855,0.55],[3.86,0.18],[3.88,0.60],[3.885,0.22],[3.905,0.86],[3.91,0.45],[3.93,1.28],[3.935,0.82],[3.955,1.00],[3.96,0.58],[3.98,0.72],[3.985,0.34],[4.005,0.72],[4.01,0.32],[4.03,0.70],[4.035,0.30],[4.055,0.64],[4.06,0.26],[4.08,0.66],[4.085,0.28],[4.105,0.80],[4.11,0.40],[4.13,0.92],[4.135,0.52],[4.155,0.82],[4.16,0.42],[4.18,0.70],[4.185,0.30],[4.205,0.88],[4.21,0.46],[4.23,0.74],[4.235,0.34],[4.255,0.58],[4.26,0.22],[4.28,0.72],[4.285,0.32],[4.305,0.84],[4.31,0.42],[4.33,0.80],[4.335,0.40],[4.355,0.75],[4.36,0.35],[4.38,0.78],[4.385,0.38],[4.405,0.82],[4.41,0.40],[4.43,0.82],[4.435,0.40],[4.455,0.78],[4.46,0.36],[4.48,0.76],[4.485,0.36],[4.505,0.92],[4.51,0.50],[4.53,0.95],[4.535,0.50],[4.555,0.80],[4.56,0.38],[4.58,0.86],[4.585,0.44],[4.605,0.95],[4.61,0.50],[4.63,1.08],[4.635,0.62],[4.655,1.25],[4.66,0.75],[4.68,0.80],[4.685,0.32],[4.705,0.85],[4.71,0.38],[4.73,1.15],[4.735,0.65],[4.755,1.75],[4.76,1.20],[4.78,1.90],[4.785,1.30],[4.805,0.85],[4.81,0.38],[4.83,0.90],[4.835,0.42],[4.855,0.95],[4.86,0.45],[4.88,1.35],[4.885,0.85],[4.905,1.70],[4.91,1.15],[4.93,0.95],[4.935,0.45],[4.955,1.20],[4.96,0.70],[4.98,1.35],[4.985,0.85],[5.005,0.85],[5.01,0.38],[5.03,1.05],[5.035,0.55],[5.055,1.25],[5.06,0.75],[5.08,1.05],[5.085,0.55],[5.105,1.00],[5.11,0.50],[5.13,1.30],[5.135,0.80],[5.155,1.22],[5.16,0.72],[5.18,1.15],[5.185,0.65],[5.205,1.05],[5.21,0.55],[5.23,1.15],[5.235,0.65],[5.255,1.55],[5.26,1.05],[5.28,2.05],[5.285,1.50],[5.305,1.70],[5.31,1.20],[5.33,1.10],[5.335,0.60],[5.355,1.05],[5.36,0.55],[5.38,1.25],[5.385,0.75],[5.405,0.95],[5.41,0.45],[5.43,0.82],[5.435,0.35],[5.455,1.02],[5.46,0.52],[5.48,1.10],[5.485,0.60],[5.505,0.80],[5.51,0.32],[5.53,0.85],[5.535,0.36],[5.555,0.90],[5.56,0.42],[5.58,1.15],[5.585,0.65],[5.605,0.70],[5.61,0.22],[5.63,0.62],[5.635,0.15],[5.655,0.60],[5.66,0.14],[5.68,0.64],[5.685,0.18],[5.705,0.75],[5.71,0.26],[5.73,1.40],[5.735,0.90],[5.755,0.72],[5.76,0.25],[5.78,1.20],[5.785,0.70],[5.805,0.62],[5.81,0.15],[5.83,0.58],[5.835,0.12],[5.855,0.56],[5.86,0.10],[5.88,1.15],[5.885,0.65],[5.905,1.55],[5.91,1.05],[5.93,1.05],[5.935,0.55],[5.955,0.80],[5.96,0.32],[5.98,0.72],[5.985,0.25]];

// ---------------- data: profile (f) ----------------
const fDist = [1.003,1.038,1.072,1.107,1.141,1.184,1.227,1.279,1.299,1.325,
  1.356,1.382,1.417,1.468,1.520,1.554,1.580,1.606,1.654,1.683,
  1.726,1.761,1.795,1.830,1.864,1.890,1.921,1.954,1.993,2.028,
  2.071,2.114,2.143,2.182,2.225,2.246,2.277,2.329,2.380,2.432,
  2.466,2.509,2.544,2.578,2.621,2.673,2.725,2.768,2.811,2.871,
  2.914,2.957,2.991,3.014,3.043,3.072,3.103,3.138,3.181,3.215,
  3.250,3.284,3.327,3.370,3.404,3.439,3.470,3.491,3.508,3.530,
  3.559,3.588,3.611,3.640,3.676,3.711,3.733,3.763,3.807,3.851,
  3.904,3.965,4.009,4.032,4.061,4.105,4.158,4.202,4.246,4.298,
  4.342,4.386,4.421,4.456,4.488,4.517,4.561,4.605,4.645,4.684,
  4.724,4.759,4.780,4.798,4.833,4.877,4.912,4.947,4.973,5.008,
  5.043,5.066,5.091,5.114,5.140,5.166,5.201,5.236,5.280,5.333,
  5.394,5.435,5.473,5.517,5.552,5.592,5.648,5.692,5.727,5.750,
  5.780,5.824,5.859,5.894,5.926,5.955,5.996];
const fHRFM = [0.33,0.49,0.51,0.58,0.47,0.43,0.49,0.74,0.68,1.02,
  0.66,0.35,0.58,0.49,0.55,0.57,0.78,0.43,0.74,0.49,
  0.60,0.43,0.72,0.33,0.58,0.45,0.70,0.23,0.25,0.13,
  0.37,0.41,0.72,0.49,0.70,0.47,0.37,0.45,0.43,0.23,
  0.49,0.72,0.49,0.68,0.45,0.53,0.64,0.45,0.49,0.78,
  0.53,0.92,1.20,0.39,0.53,0.96,0.45,0.62,0.21,0.58,
  0.29,0.53,0.27,0.25,0.62,0.49,1.51,1.30,1.12,1.24,
  0.80,0.35,0.35,0.47,0.35,0.72,0.80,0.64,0.47,0.43,
  0.47,0.35,0.64,0.76,0.57,0.45,0.49,0.33,0.53,0.39,
  0.55,0.70,0.49,0.66,0.55,0.41,0.41,0.53,0.94,0.49,
  0.43,0.60,0.90,0.43,0.37,0.80,1.06,0.80,0.60,1.14,
  1.20,1.18,0.55,1.00,1.16,1.16,0.55,0.43,0.39,0.49,
  0.66,0.51,0.39,0.62,0.41,0.35,0.64,0.53,0.43,0.80,
  0.72,0.37,0.47,0.29,0.55,0.43,0.43];
const fATM = [0.47,0.49,0.50,0.53,0.50,0.47,0.50,0.70,0.68,1.10,
  0.70,0.55,0.55,0.52,0.55,0.56,0.84,0.45,0.94,0.55,
  0.58,0.47,0.62,0.40,0.60,0.50,1.04,0.25,0.57,0.22,
  0.30,0.45,0.74,0.45,0.65,0.94,0.42,0.47,0.45,0.25,
  0.52,0.70,0.60,0.70,0.52,0.55,0.62,0.48,0.50,0.75,
  0.55,0.95,1.47,0.42,0.40,1.32,0.47,0.55,0.25,0.52,
  0.35,0.48,0.40,0.35,0.58,0.45,1.79,1.20,1.97,1.79,
  0.85,0.37,0.17,0.45,0.40,0.70,0.94,0.62,0.50,0.45,
  0.45,0.42,0.70,1.34,0.55,0.50,0.47,0.40,0.50,0.42,
  0.52,0.62,0.52,0.62,0.84,0.45,0.43,0.50,0.85,0.52,
  0.45,1.67,0.70,0.48,0.40,0.75,1.10,0.85,0.55,1.32,
  1.15,1.22,0.50,0.95,1.26,1.18,0.60,0.40,0.42,0.47,
  0.60,0.70,0.40,0.55,0.45,0.38,0.68,0.55,0.45,1.12,
  0.75,0.40,0.45,0.35,0.94,0.45,0.45];
const fAtlDist = [1.003,1.172,1.241,1.589,1.933,2.277,2.596,2.725,2.931,3.017,
  3.086,3.224,3.344,3.482,3.544,3.684,3.737,3.790,3.842,3.895,
  3.947,4.017,4.088,4.193,4.263,4.316,4.382,4.421,4.526,4.640,
  4.719,4.789,4.851,4.929,5.000,5.061,5.087,5.114,5.166,5.254,
  5.315,5.386,5.464,5.526,5.596,5.675,5.701,5.754,5.824,5.894,
  5.947,5.996];
const fAtl = [0.55,0.53,0.57,0.58,0.58,0.60,0.64,0.60,0.55,0.68,
  0.58,0.42,0.48,0.55,0.58,0.62,0.51,0.57,0.53,0.57,
  0.51,0.49,0.50,0.45,0.57,0.53,0.64,0.52,0.49,0.53,
  0.64,0.53,0.58,0.83,0.88,0.85,1.24,0.92,0.80,0.45,
  0.49,0.55,0.53,0.43,0.47,0.48,0.58,0.49,0.51,0.47,
  0.53,0.49];
const fRateDist = [1.003,1.055,1.107,1.176,1.219,1.279,1.330,1.382,1.417,1.675,
  1.761,1.830,1.873,1.916,1.976,2.010,2.053,2.105,2.157,2.208,
  2.260,2.312,2.363,2.415,2.466,2.518,2.570,2.621,2.690,2.759,
  2.811,2.854,2.905,2.948,3.000,3.043,3.095,3.172,3.241,3.293,
  3.353,3.413,3.482,3.534,3.605,3.640,3.676,3.719,3.772,3.816,
  3.860,3.912,3.956,3.991,4.035,4.088,4.140,4.202,4.281,4.360,
  4.421,4.465,4.526,4.579,4.649,4.719,4.772,4.833,4.877,4.929,
  4.991,5.043,5.079,5.122,5.175,5.254,5.315,5.377,5.438,5.491,
  5.578,5.631,5.701,5.771,5.824,5.877,5.929,5.996];
const fRate = [1.04,1.07,1.06,1.10,1.08,1.08,1.06,1.01,1.00,1.00,
  1.02,1.03,null,1.04,1.05,1.15,1.21,1.24,1.21,1.13,
  1.06,1.07,1.08,1.10,1.13,1.11,1.14,1.14,1.11,1.09,
  1.08,1.13,1.13,1.11,1.14,1.08,1.12,1.18,1.15,1.15,
  1.04,1.05,1.03,1.08,1.08,1.06,1.12,1.09,1.13,1.15,
  1.12,1.16,1.15,1.21,1.24,1.19,1.16,1.09,1.10,1.08,
  1.09,1.13,1.11,1.15,1.15,1.19,1.21,1.23,1.28,1.28,
  1.24,1.21,1.18,1.23,1.27,1.25,1.20,1.18,1.15,1.19,
  1.13,1.17,1.15,1.17,1.17,1.14,1.17,1.14];

const fNoise = [[1.06,3.63],[1.34,3.77],[1.43,3.87],[1.49,3.92],[1.60,3.85],[1.61,3.73],[1.76,3.83],[1.86,3.69],[1.97,3.35],[2.04,3.85],[2.12,3.83],[2.21,3.57],[2.28,3.57],[2.38,3.21],[2.43,3.77],[2.62,3.65],[2.74,3.73],[2.95,3.92],[3.08,3.91],[3.14,2.80],[3.20,2.78],[3.39,2.92],[3.41,2.15],[3.48,2.82],[3.53,2.82],[3.56,2.66],[1.18,3.55],[1.22,3.43],[1.07,3.21],[1.06,3.09],[1.32,2.98],[1.47,2.62],[1.26,2.52],[1.16,2.46],[1.07,2.30],[1.29,2.34],[1.36,2.17],[1.51,2.34],[1.60,2.32],[1.69,2.48],[1.74,2.46],[1.87,2.48],[1.78,2.15],[1.67,1.79],[1.52,1.71],[1.49,1.99],[1.36,1.87],[1.18,1.95],[1.05,1.43],[1.18,1.47],[1.26,1.49],[1.31,1.51],[1.49,1.51],[1.56,1.34],[1.88,1.87],[1.89,1.34],[1.94,2.78],[1.99,2.80],[2.07,2.56],[2.11,2.60],[2.17,2.34],[2.20,1.99],[2.27,1.77],[2.23,1.53],[2.04,2.23],[2.09,1.99],[2.15,1.95],[2.33,2.46],[2.46,2.21],[2.56,2.07],[2.58,2.13],[2.67,2.13],[2.63,2.66],[2.61,2.21],[2.72,1.91],[2.83,2.13],[2.93,2.13],[3.00,2.15],[3.08,1.91],[3.15,2.23],[3.22,1.99],[3.28,1.93],[3.33,2.07],[3.44,2.15],[3.53,2.13],[2.65,1.87],[2.55,1.87],[2.37,1.83],[2.38,1.63],[2.51,1.43],[2.71,1.36],[2.88,1.43],[3.21,1.71],[3.31,1.51],[3.12,1.51],[2.92,2.42],[2.85,2.38],[2.81,2.82],[2.67,2.84],[3.03,3.11],[3.15,3.35],[3.10,2.74],[3.28,2.50],[3.35,2.60],[3.48,2.60],[2.38,2.60],[2.26,2.80],[1.80,2.84],[1.89,2.92],[1.70,2.84],[1.62,3.17],[1.47,3.21],[1.38,3.29],[1.23,3.09],
  [3.82,3.85],[3.96,3.95],[4.06,3.92],[4.25,3.73],[4.40,3.65],[4.66,3.71],[4.75,3.69],[4.79,3.45],[5.13,3.83],[5.26,3.81],[5.46,3.87],[5.67,3.89],[5.63,3.65],[5.79,3.69],[5.84,3.89],[5.89,3.65],[5.30,3.23],[5.46,3.00],[5.59,2.94],[5.72,2.98],[5.77,3.29],[5.63,2.66],[5.54,2.42],[5.42,2.23],[5.48,2.23],[5.25,2.34],[5.18,3.05],[4.88,2.82],[4.81,2.77],[4.75,2.78],[4.60,2.54],[4.49,2.34],[4.37,2.78],[4.30,2.66],[4.17,2.76],[4.08,2.62],[3.92,2.66],[3.98,2.50],[3.85,2.23],[3.71,1.95],[3.66,2.11],[3.82,1.99],[3.95,2.07],[4.04,2.13],[4.13,1.91],[4.32,2.21],[4.44,2.09],[4.53,2.13],[4.65,2.07],[4.68,1.83],[4.98,1.95],[4.95,2.30],[5.05,2.42],[5.32,2.46],[5.40,2.07],[5.51,1.99],[5.58,1.75],[5.69,1.83],[5.75,2.03],[5.82,1.83],[5.96,1.99],[5.89,2.54],[5.96,2.58],[5.35,1.40],[5.48,1.51],[5.59,1.28],[5.72,1.28],[5.18,1.55],[5.10,1.28],[4.84,1.55],[4.61,1.69],[4.50,1.43],[4.27,1.55],[4.11,1.45],[3.81,1.63],[3.67,1.43],[3.61,1.28],
  [1.03,-0.35],[1.06,0.15],[1.09,-0.78],[1.13,-0.12],[1.16,-0.55],[1.20,0.08],[1.24,-0.92],[1.27,-0.28],[1.31,0.20],[1.35,-0.66],[1.38,-0.05],[1.42,-0.44],[1.46,0.12],[1.49,-0.85],[1.53,-0.18],[1.57,-0.60],[1.60,0.05],[1.64,-0.30],[1.68,-0.95],[1.71,0.18],[1.75,-0.50],[1.79,-0.10],[1.82,-0.72],[1.86,0.10],[1.90,-0.38],[1.93,-0.88],[1.97,-0.15],[2.01,-0.58],[2.04,0.06],[2.08,-0.32],[2.12,-0.80],[2.15,0.14],[2.19,-0.46],[2.23,-0.08],[2.26,-0.69],[2.30,0.09],[2.34,-0.25],[2.37,-0.90],[2.41,-0.52],[2.45,0.16],[2.48,-0.14],[2.52,-0.75],[2.56,-0.36],[2.59,0.04],[2.63,-0.62],[2.67,-0.20],[2.70,-0.97],[2.74,0.11],[2.78,-0.42],[2.81,-0.07],[2.85,-0.82],[2.89,0.17],[2.92,-0.29],[2.96,-0.64],[3.00,-0.11],[3.03,-0.87],[3.07,0.07],[3.11,-0.48],[3.14,-0.22],[3.18,-0.73],[3.22,0.13],[3.25,-0.35],[3.29,-0.93],[3.33,-0.04],[3.36,-0.56],[3.40,0.19],[3.44,-0.26],[3.47,-0.79],[3.51,-0.13],[3.55,-0.61],[3.58,0.08],[3.62,-0.40],[3.66,-0.89],[3.69,-0.06],[3.73,-0.53],[3.77,0.15],[3.80,-0.23],[3.84,-0.70],[3.88,0.02],[3.91,-0.45],[3.95,-0.96],[3.99,-0.17],[4.02,0.12],[4.06,-0.63],[4.10,-0.31],[4.13,-0.84],[4.17,0.05],[4.21,-0.41],[4.24,-0.09],[4.28,-0.76],[4.32,0.18],[4.35,-0.27],[4.39,-0.58],[4.43,-0.02],[4.46,-0.91],[4.50,-0.19],[4.54,0.10],[4.57,-0.47],[4.61,-0.71],[4.65,0.14],[4.68,-0.34],[4.72,-0.86],[4.76,-0.12],[4.79,0.06],[4.83,-0.54],[4.87,-0.24],[4.90,-0.80],[4.94,0.16],[4.98,-0.37],[5.01,-0.05],[5.05,-0.67],[5.09,0.09],[5.12,-0.43],[5.16,-0.94],[5.20,-0.16],[5.23,0.13],[5.27,-0.59],[5.31,-0.29],[5.34,-0.83],[5.38,0.04],[5.42,-0.39],[5.45,-0.10],[5.49,-0.74],[5.53,0.17],[5.56,-0.49],[5.60,-0.21],[5.64,-0.88],[5.67,0.07],[5.71,-0.33],[5.75,-0.62],[5.78,-0.03],[5.82,-0.78],[5.86,0.11],[5.89,-0.44],[5.93,-0.18],[5.97,-0.68],
  [1.05,0.72],[1.14,0.95],[1.23,0.35],[1.33,1.15],[1.41,0.88],[1.52,0.30],[1.63,1.05],[1.72,0.80],[1.83,0.28],[1.94,1.10],[2.06,0.85],[2.16,0.32],[2.27,1.20],[2.39,0.90],[2.49,0.35],[2.60,1.25],[2.70,0.78],[2.82,0.30],[2.93,1.08],[3.05,0.82],[3.16,0.98],[3.27,1.30],[3.38,0.85],[3.50,0.32],[3.60,1.15],[3.70,0.95],[3.79,1.25],[3.90,0.85],[4.00,0.30],[4.10,1.05],[4.20,0.82],[4.29,1.20],[4.38,0.95],[4.47,0.28],[4.56,1.10],[4.64,0.33],[4.70,0.15],[4.74,0.60],[4.82,0.22],[4.86,0.70],[4.93,0.10],[4.97,0.35],[5.03,0.25],[5.07,0.65],[5.13,0.18],[5.19,0.42],[5.25,0.90],[5.34,1.18],[5.44,0.80],[5.55,1.05],[5.66,0.30],[5.76,1.15],[5.87,0.85],[5.95,1.20]];

const fSignal = [[1.01,0.70],[1.02,0.25],[1.04,0.55],[1.05,0.88],[1.07,0.38],[1.08,0.62],[1.10,0.20],[1.11,0.75],[1.13,0.45],[1.14,0.95],[1.16,0.30],[1.17,0.65],[1.19,0.50],[1.20,0.12],[1.22,0.82],[1.23,0.40],[1.25,0.60],[1.26,0.92],[1.28,0.35],[1.29,1.25],[1.30,0.75],[1.32,0.50],[1.33,1.45],[1.34,0.85],[1.36,0.28],[1.37,0.62],[1.39,0.10],[1.40,0.48],[1.42,0.78],[1.43,0.32],[1.45,0.58],[1.46,0.95],[1.48,0.22],[1.49,0.68],[1.51,0.42],[1.52,0.05],[1.54,0.75],[1.55,0.35],[1.57,1.05],[1.58,0.60],[1.60,0.90],[1.61,0.25],[1.63,0.55],[1.64,1.00],[1.65,0.70],[1.67,0.35],[1.68,0.15],[1.70,0.62],[1.71,0.85],[1.73,0.40],[1.74,0.58],[1.76,0.20],[1.77,0.72],[1.79,0.95],[1.80,0.45],[1.82,0.28],[1.83,0.60],[1.85,0.05],[1.86,0.80],[1.88,0.40],[1.89,0.58],[1.91,1.20],[1.92,0.85],[1.94,0.30],[1.95,0.10],[1.97,-0.05],[1.98,0.42],[2.00,0.20],[2.01,-0.15],[2.03,0.35],[2.04,0.05],[2.06,0.52],[2.07,-0.50],[2.09,0.25],[2.10,0.60],[2.12,0.15],[2.13,0.85],[2.15,0.45],[2.16,1.30],[2.18,0.70],[2.19,0.30],[2.21,0.55],[2.22,0.95],[2.24,0.62],[2.25,1.15],[2.27,0.40],[2.28,0.18],[2.30,0.58],[2.31,0.78],[2.33,0.35],[2.34,0.50],[2.36,0.10],[2.37,0.65],[2.39,0.28],[2.40,0.48],[2.42,0.05],[2.43,0.30],[2.45,0.55],[2.46,0.15],[2.48,0.72],[2.49,0.90],[2.51,0.50],[2.52,1.05],[2.54,0.68],[2.55,0.35],[2.57,0.85],[2.58,0.55],[2.60,0.95],[2.61,0.30],[2.63,0.62],[2.64,0.45],[2.66,0.78],[2.67,0.20],[2.69,0.58],[2.70,0.88],[2.72,0.40],[2.73,0.66],[2.75,0.25],[2.76,0.50],[2.78,0.75],[2.79,0.35],[2.81,0.55],[2.82,0.12],[2.84,0.62],[2.85,0.90],[2.87,0.45],[2.88,1.05],[2.90,0.70],[2.91,0.30],[2.93,0.85],[2.94,1.20],[2.96,1.45],[2.97,1.70],[2.98,1.05],[2.99,1.30],[3.00,0.55],[3.02,0.20],[3.03,0.65],[3.05,0.35],[3.06,0.80],[3.07,1.10],[3.08,0.60],[3.10,0.30],[3.11,0.75],[3.13,0.45],[3.14,0.10],[3.16,0.58],[3.17,0.25],[3.19,0.02],[3.20,0.48],[3.22,0.70],[3.23,0.20],[3.25,0.40],[3.26,-0.05],[3.28,0.55],[3.29,0.30],[3.31,0.08],[3.32,0.45],[3.34,0.15],[3.35,-0.10],[3.37,0.38],[3.38,0.60],[3.40,0.25],[3.41,0.80],[3.43,0.48],[3.44,1.10],[3.45,1.40],[3.46,1.65],[3.47,1.90],[3.48,1.25],[3.49,0.95],[3.50,1.55],[3.51,0.75],[3.52,1.30],[3.53,0.60],[3.55,1.85],[3.56,0.40],[3.57,0.95],[3.59,0.25],[3.60,0.55],[3.62,0.10],[3.63,-0.05],[3.65,0.45],[3.66,0.20],[3.68,0.65],[3.69,0.88],[3.71,0.50],[3.72,1.05],[3.74,0.75],[3.75,0.35],[3.77,0.60],[3.78,0.18],[3.80,0.45],[3.81,0.70],[3.83,0.30],[3.84,0.55],[3.86,0.12],[3.87,0.40],[3.89,0.65],[3.90,0.25],[3.92,0.48],[3.93,0.80],[3.95,0.35],[3.96,0.15],[3.98,0.58],[3.99,0.92],[4.01,1.25],[4.02,1.60],[4.03,1.00],[4.04,0.70],[4.06,0.40],[4.07,0.20],[4.09,0.55],[4.10,0.75],[4.12,0.32],[4.13,0.50],[4.15,0.10],[4.16,0.62],[4.18,0.38],[4.19,0.85],[4.21,0.22],[4.22,0.48],[4.24,0.65],[4.25,0.30],[4.27,0.55],[4.28,0.80],[4.30,0.40],[4.31,0.15],[4.33,0.60],[4.34,0.35],[4.36,0.90],[4.37,0.50],[4.39,0.72],[4.40,0.28],[4.42,0.58],[4.43,0.42],[4.45,0.85],[4.46,0.20],[4.48,0.62],[4.49,0.95],[4.51,0.45],[4.52,0.25],[4.54,0.55],[4.55,0.75],[4.57,0.32],[4.58,0.10],[4.60,0.48],[4.61,0.68],[4.63,0.90],[4.64,1.15],[4.66,0.60],[4.67,0.38],[4.69,0.52],[4.70,0.20],[4.72,0.72],[4.73,0.45],[4.75,0.85],[4.76,0.62],[4.78,0.30],[4.79,0.55],[4.81,0.15],[4.82,0.40],[4.84,0.70],[4.85,1.00],[4.86,0.55],[4.87,1.25],[4.88,0.80],[4.89,0.35],[4.90,1.10],[4.91,0.65],[4.92,1.40],[4.93,0.90],[4.94,0.50],[4.95,1.20],[4.96,0.75],[4.97,1.55],[4.98,1.05],[4.99,0.40],[5.00,1.30],[5.01,0.85],[5.02,1.75],[5.03,1.10],[5.04,0.60],[5.05,1.45],[5.06,2.00],[5.07,0.95],[5.08,1.60],[5.09,2.30],[5.10,1.20],[5.11,0.70],[5.12,1.85],[5.13,1.35],[5.14,2.10],[5.15,1.00],[5.16,1.50],[5.17,0.80],[5.18,1.70],[5.19,1.15],[5.20,0.55],[5.21,1.30],[5.22,0.90],[5.23,0.35],[5.24,0.65],[5.25,0.15],[5.26,0.45],[5.27,0.05],[5.28,0.30],[5.30,0.58],[5.31,0.20],[5.33,0.75],[5.34,0.40],[5.36,0.10],[5.37,0.62],[5.39,0.85],[5.40,0.35],[5.42,0.55],[5.43,0.95],[5.45,0.28],[5.46,0.60],[5.48,0.18],[5.49,0.45],[5.51,0.78],[5.52,0.32],[5.54,0.55],[5.55,0.12],[5.57,0.40],[5.58,0.68],[5.60,0.25],[5.61,0.50],[5.63,0.88],[5.64,0.35],[5.66,0.62],[5.67,0.15],[5.69,0.48],[5.70,0.75],[5.72,0.30],[5.73,0.95],[5.74,1.25],[5.75,1.45],[5.76,0.85],[5.78,0.55],[5.79,0.25],[5.81,0.62],[5.82,0.40],[5.84,0.78],[5.85,0.20],[5.87,0.50],[5.88,0.70],[5.90,0.35],[5.91,0.15],[5.92,0.90],[5.93,1.20],[5.94,0.60],[5.96,0.42],[5.97,0.72],[5.99,0.30]];

// ---------------- data: histograms (g)(h), bins of 0.05 m from 0 to 3 m ----------------
const binWidth = 0.05;
const gHRFM = [0.0020,0.0067,0.0082,0.0160,0.0300,0.0290,0.0410,0.0850,0.1150,0.1150,
  0.1010,0.0800,0.0660,0.0540,0.0450,0.0370,0.0330,0.0260,0.0210,0.0160,
  0.0130,0.0105,0.0074,0.0062,0.0056,0.0043,0.0036,0.0028,0.0023,0.0019,
  0.0016,0.0013,0.0011,0.0009,0.0008,0.0007,0.0006,0.0005,0.0005,0.0004,
  0.0004,0.0003,0.0003,0.0003,0.0002,0.0002,0.0002,0.0002,0.0002,0.0001,
  0.0001,0.0001,0.0001,0.0001,0.0001,0.0001,0.0001,0.0001,0.0001,0.0001];
const gATM = [0.0040,0.0060,0.0077,0.0206,0.0320,0.0270,0.0480,0.0860,0.1140,0.1130,
  0.0970,0.0770,0.0620,0.0520,0.0420,0.0365,0.0320,0.0250,0.0180,0.0175,
  0.0140,0.0120,0.0093,0.0079,0.0062,0.0054,0.0043,0.0034,0.0028,0.0023,
  0.0020,0.0017,0.0014,0.0012,0.0010,0.0009,0.0008,0.0007,0.0006,0.0005,
  0.0005,0.0004,0.0004,0.0003,0.0003,0.0003,0.0002,0.0002,0.0002,0.0002,
  0.0001,0.0001,0.0001,0.0001,0.0001,0.0001,0.0001,0.0001,0.0001,0.0001];
const gATL07 = [0.0010,0.0087,0.0094,0.0226,0.0320,0.0306,0.0600,0.1100,0.1285,0.1090,
  0.0990,0.0730,0.0600,0.0470,0.0350,0.0310,0.0260,0.0217,0.0148,0.0139,
  0.0105,0.0090,0.0067,0.0059,0.0050,0.0039,0.0032,0.0026,0.0020,0.0015,
  0.0013,0.0011,0.0009,0.0008,0.0007,0.0006,0.0005,0.0004,0.0004,0.0003,
  0.0003,0.0003,0.0002,0.0002,0.0002,0.0002,0.0001,0.0001,0.0001,0.0001,
  0.0001,0.0001,0.0001,0.0001,0.0001,0.0001,0.0001,0.0001,0.0001,0.0001];
const hHRFM = [0.0010,0.0043,0.0067,0.0105,0.0206,0.0306,0.0380,0.0685,0.1120,0.1270,
  0.1160,0.0930,0.0800,0.0650,0.0510,0.0387,0.0314,0.0237,0.0175,0.0120,
  0.0093,0.0070,0.0051,0.0039,0.0028,0.0022,0.0017,0.0014,0.0012,0.0010,
  0.0009,0.0008,0.0007,0.0006,0.0005,0.0004,0.0004,0.0003,0.0003,0.0003,
  0.0002,0.0002,0.0002,0.0002,0.0001,0.0001,0.0001,0.0001,0.0001,0.0001,
  0.0001,0.0001,0.0001,0.0001,0.0001,0.0001,0.0001,0.0001,0.0001,0.0001];
const hATM = [0.0039,0.0051,0.0090,0.0218,0.0290,0.0306,0.0507,0.0824,0.1080,0.1080,
  0.1020,0.0804,0.0647,0.0550,0.0438,0.0387,0.0290,0.0255,0.0160,0.0136,
  0.0116,0.0116,0.0077,0.0067,0.0054,0.0043,0.0036,0.0032,0.0025,0.0023,
  0.0017,0.0015,0.0013,0.0011,0.0010,0.0009,0.0008,0.0007,0.0006,0.0005,
  0.0005,0.0004,0.0004,0.0003,0.0003,0.0003,0.0002,0.0002,0.0002,0.0002,
  0.0001,0.0001,0.0001,0.0001,0.0001,0.0001,0.0001,0.0001,0.0001,0.0001];
const hATL07 = [0.0012,0.0062,0.0071,0.0139,0.0224,0.0325,0.0442,0.0964,0.1408,0.1443,
  0.1247,0.0956,0.0742,0.0495,0.0387,0.0260,0.0195,0.0139,0.0094,0.0094,
  0.0046,0.0040,0.0032,0.0025,0.0020,0.0016,0.0013,0.0011,0.0009,0.0008,
  0.0007,0.0006,0.0005,0.0004,0.0004,0.0003,0.0003,0.0002,0.0002,0.0002,
  0.0002,0.0001,0.0001,0.0001,0.0001,0.0001,0.0001,0.0001,0.0001,0.0001,
  0.0001,0.0001,0.0001,0.0001,0.0001,0.0001,0.0001,0.0001,0.0001,0.0001];

const statHeaders = ['N','Mean','Median','Mode'];
const gStats = [['37 572','0.58','0.52','0.47'],['37 572','0.58','0.52','0.47'],['37 572','0.55','0.49','0.43']];
const gAtlCount = '(14 633)';
const hStats = [['32 596','0.56','0.53','0.47'],['32 596','0.58','0.52','0.47'],['32 596','0.53','0.49','0.45']];
const hAtlCount = '(12 047)';

// ---------------- drawing ----------------
const W = 5047, H = 7447;
const RED = '#d62f2f', BLUE = '#3467c8', PURPLE = '#8a57c2', TXT_RED = '#c41a1a', TXT_BLUE = '#2f62c4';

// the figure is laid out on a 5047 x 7447 canvas and stretched to the window
const svg = d3.select('#chart').append('svg')
  .attr('viewBox', `0 0 ${W} ${H}`).attr('preserveAspectRatio', 'none');
svg.append('rect').attr('width', W).attr('height', H).attr('fill', '#fff');
const defs = svg.append('defs');

// MATLAB-like copper colour map
const copper = d3.scaleLinear().domain([0, 0.8, 1]).range(['#000000', '#ff9f66', '#ffc77f']).clamp(true);
const grad = defs.append('linearGradient').attr('id', 'copper').attr('x1', 0).attr('y1', 1).attr('x2', 0).attr('y2', 0);
[0, 0.8, 1].forEach(o => grad.append('stop').attr('offset', o).attr('stop-color', copper(o)));

defs.append('marker').attr('id', 'arrow').attr('viewBox', '0 0 10 10').attr('refX', 9).attr('refY', 5)
  .attr('markerWidth', 9).attr('markerHeight', 7).attr('markerUnits', 'strokeWidth').attr('orient', 'auto')
  .append('path').attr('d', 'M0,0 L10,5 L0,10 z').attr('fill', BLUE);

function txt(g, x, y, s, o = {}) {
  return g.append('text').attr('x', x).attr('y', y).text(s)
    .attr('font-size', o.size || 78).attr('font-weight', o.bold ? 'bold' : 'normal')
    .attr('fill', o.fill || '#000').attr('text-anchor', o.anchor || 'start')
    .attr('dy', o.dy == null ? '0.35em' : o.dy)
    .attr('letter-spacing', o.ls || 0)
    .attr('transform', o.rot ? `rotate(${o.rot},${x},${y})` : null);
}

// ---- (a)-(d) segment panels ----
const SEG_L = 315, SEG_R = 4529;
const xSeg = d3.scaleLinear().domain([0, 25]).range([SEG_L, SEG_R]);
const bandX = xSeg(4);

function segPanel(p) {
  const y = d3.scaleLinear().domain(p.domain).range([p.bottom, p.top]);
  const g = svg.append('g');
  const inner = p.ticks.filter(v => v > p.domain[0] + 1e-9 && v < p.domain[1] - 1e-9);
  g.selectAll(null).data([5, 10, 15, 20]).join('line')
    .attr('x1', d => xSeg(d)).attr('x2', d => xSeg(d)).attr('y1', p.top).attr('y2', p.bottom)
    .attr('stroke', '#e2e2e2').attr('stroke-width', 3);
  g.selectAll(null).data(inner).join('line')
    .attr('x1', SEG_L).attr('x2', SEG_R).attr('y1', d => y(d)).attr('y2', d => y(d))
    .attr('stroke', '#e2e2e2').attr('stroke-width', 4);

  const line = d3.line().x((d, i) => xSeg(segments[i])).y(d => y(d));
  g.append('path').attr('d', line(p.blue)).attr('fill', 'none').attr('stroke', BLUE)
    .attr('stroke-width', 12).attr('stroke-dasharray', p.dashed ? '44,30' : null);
  g.append('path').attr('d', line(p.red)).attr('fill', 'none').attr('stroke', RED).attr('stroke-width', 16);

  // gray selection band over the lines
  g.append('rect').attr('x', bandX - 19).attr('width', 38).attr('y', p.top).attr('height', p.bottom - p.top).attr('fill', '#c8c8c8');

  const cnorm = v => (v - p.cdom[0]) / (p.cdom[1] - p.cdom[0]);
  g.selectAll(null).data(p.blue).join('rect')
    .attr('x', (d, i) => xSeg(segments[i]) - 20).attr('y', d => y(d) - 20).attr('width', 40).attr('height', 40)
    .attr('fill', (d, i) => copper(cnorm(p.blueRate[i])));
  g.selectAll(null).data(p.red).join('circle')
    .attr('cx', (d, i) => xSeg(segments[i])).attr('cy', d => y(d)).attr('r', 24)
    .attr('fill', (d, i) => copper(cnorm(p.redRate[i])));
  g.append('rect').attr('x', bandX - 19).attr('width', 38).attr('y', p.top).attr('height', p.bottom - p.top)
    .attr('fill', '#bdbdbd').attr('opacity', 0.25);

  // axes box and inward ticks
  g.append('rect').attr('x', SEG_L).attr('y', p.top).attr('width', SEG_R - SEG_L).attr('height', p.bottom - p.top)
    .attr('fill', 'none').attr('stroke', '#000').attr('stroke-width', 6);
  [5, 10, 15, 20].forEach(t => {
    g.append('line').attr('x1', xSeg(t)).attr('x2', xSeg(t)).attr('y1', p.bottom).attr('y2', p.bottom - 42).attr('stroke', '#000').attr('stroke-width', 6);
    g.append('line').attr('x1', xSeg(t)).attr('x2', xSeg(t)).attr('y1', p.top).attr('y2', p.top + 42).attr('stroke', '#000').attr('stroke-width', 6);
  });
  inner.forEach(t => {
    g.append('line').attr('x1', SEG_L).attr('x2', SEG_L + 42).attr('y1', y(t)).attr('y2', y(t)).attr('stroke', '#000').attr('stroke-width', 6);
    g.append('line').attr('x1', SEG_R).attr('x2', SEG_R - 42).attr('y1', y(t)).attr('y2', y(t)).attr('stroke', '#000').attr('stroke-width', 6);
  });
  p.ticks.forEach((t, i) => txt(g, 282, y(t), p.tickLabels[i], { anchor: 'end', size: 82 }));

  txt(g, 48, p.top + 15, p.label, { bold: true, size: 84 });
  txt(g, 100, (p.top + p.bottom) / 2, p.ylabel, { bold: true, size: 90, anchor: 'middle', rot: -90, ls: 2 });
  txt(g, 3600, p.t1y, p.t1, { fill: TXT_RED, size: 92, dy: 0 });
  txt(g, 3600, p.t2y, p.t2, { fill: TXT_BLUE, size: 92, dy: 0 });
  return y;
}

segPanel({ top: 80, bottom: 723, domain: [0.7615, 1], ticks: [0.8, 0.9, 1], tickLabels: ['0.8', '0.9', '1'],
  red: rA_hrfm, blue: rA_atl, redRate: rateA, blueRate: rateA, cdom: [0, 5], dashed: false,
  label: '(a)', ylabel: 'r', t1: 'r = 0.95\u00b10.01', t1y: 540, t2: 'r = 0.90\u00b10.05', t2y: 681 });
segPanel({ top: 848, bottom: 1491, domain: [0, 0.2], ticks: [0, 0.1, 0.2], tickLabels: ['0', '0.1', '0.2'],
  red: rmseB_hrfm, blue: rmseB_atl, redRate: rateB, blueRate: rateB, cdom: [0, 5], dashed: true,
  label: '(b)', ylabel: 'RMSE (m)', t1: 'RMSE = 0.08\u00b10.01 (m)', t1y: 950, t2: 'RMSE = 0.12\u00b10.03 (m)', t2y: 1073 });
segPanel({ top: 1581, bottom: 2223, domain: [0.4, 1], ticks: [0.4, 0.6, 0.8, 1], tickLabels: ['0.4', '0.6', '0.8', '1'],
  red: rC_hrfm, blue: rC_atl, redRate: rateC_hrfm, blueRate: rateC_atl, cdom: [1, 2], dashed: false,
  label: '(c)', ylabel: 'r', t1: 'r = 0.87\u00b10.04', t1y: 2033, t2: 'r = 0.73\u00b10.12', t2y: 2178 });
segPanel({ top: 2348, bottom: 2990, domain: [0.0947, 0.412], ticks: [0.1, 0.2, 0.3, 0.4], tickLabels: ['0.1', '0.2', '0.3', '0.4'],
  red: rmseD_hrfm, blue: rmseD_atl, redRate: rateD_hrfm, blueRate: rateD_atl, cdom: [1, 2], dashed: true,
  label: '(d)', ylabel: 'RMSE (m)', t1: 'RMSE = 0.13\u00b10.02 (m)', t1y: 2456, t2: 'RMSE = 0.19\u00b10.05 (m)', t2y: 2583 });

// gray band through the gaps between panels
[[723, 848], [1491, 1581], [2223, 2348]].forEach(([a, b]) =>
  svg.append('rect').attr('x', bandX - 19).attr('width', 38).attr('y', a).attr('height', b - a).attr('fill', '#c8c8c8'));

// segment axis labels
[0, 5, 10, 15, 20, 25].forEach(t => txt(svg, xSeg(t), 3080, String(t), { anchor: 'middle', size: 82 }));
txt(svg, (SEG_L + SEG_R) / 2, 3158, 'Segment number', { anchor: 'middle', bold: true, size: 90 });

// colour bars
function colorbar(top, bottom, dom, ticks) {
  const y = d3.scaleLinear().domain(dom).range([bottom, top]);
  const g = svg.append('g');
  g.append('rect').attr('x', 4673).attr('y', top).attr('width', 107).attr('height', bottom - top)
    .attr('fill', 'url(#copper)').attr('stroke', '#000').attr('stroke-width', 5);
  ticks.forEach(t => {
    g.append('line').attr('x1', 4780).attr('x2', 4798).attr('y1', y(t)).attr('y2', y(t)).attr('stroke', '#000').attr('stroke-width', 5);
    txt(g, 4812, y(t), String(t), { size: 82 });
  });
  txt(g, 4965, (top + bottom) / 2, 'Mean photon rate', { bold: true, size: 86, anchor: 'middle', rot: -90, ls: 2 });
}
colorbar(85, 1493, [0, 5], [0, 1, 2, 3, 4, 5]);
colorbar(1581, 2990, [1, 2], [1, 2]);

// zoom arrows from segment 4 to panel (e)
svg.append('line').attr('x1', bandX).attr('y1', 2988).attr('x2', 262).attr('y2', 3256)
  .attr('stroke', BLUE).attr('stroke-width', 8).attr('marker-end', 'url(#arrow)');
svg.append('line').attr('x1', bandX).attr('y1', 2988).attr('x2', 4760).attr('y2', 3262)
  .attr('stroke', BLUE).attr('stroke-width', 8).attr('marker-end', 'url(#arrow)');

// ---- (e)(f) profile panels ----
const PL = 240, PR = 4780;
const xKm = d3.scaleLinear().domain([1, 6]).range([PL, PR]);

function profPanel(p) {
  const y = d3.scaleLinear().domain([-1, 4]).range([p.bottom, p.top]);
  const y2 = d3.scaleLinear().domain([1, 4]).range([p.bottom, p.top]);
  const g = svg.append('g');
  const cid = 'clip' + p.label.replace(/\W/g, '');
  defs.append('clipPath').attr('id', cid).append('rect').attr('x', PL).attr('y', p.top).attr('width', PR - PL).attr('height', p.bottom - p.top);
  const pg = g.append('g').attr('clip-path', `url(#${cid})`);

  pg.selectAll(null).data(p.noise).join('rect')
    .attr('x', d => xKm(d[0]) - 9).attr('y', d => y(d[1]) - 7).attr('width', 18).attr('height', 15).attr('fill', '#c6c6c6');
  pg.selectAll(null).data(p.signal).join('rect')
    .attr('x', d => xKm(d[0]) - 9).attr('y', d => y(d[1]) - 7).attr('width', 18).attr('height', 15).attr('fill', '#ffb6c0');

  const ln = (xs, yscale) => d3.line().defined(d => d != null).x((d, i) => xKm(xs[i])).y(d => yscale(d));
  pg.append('path').attr('d', ln(p.dist, y)(p.atm)).attr('fill', 'none').attr('stroke', '#000').attr('stroke-width', 8).attr('stroke-linejoin', 'round');
  pg.append('path').attr('d', ln(p.dist, y)(p.hrfm)).attr('fill', 'none').attr('stroke', RED).attr('stroke-width', 9).attr('stroke-linejoin', 'round');
  pg.append('path').attr('d', ln(p.atlDist, y)(p.atl)).attr('fill', 'none').attr('stroke', BLUE).attr('stroke-width', 10).attr('stroke-linejoin', 'round');
  pg.append('path').attr('d', ln(p.rateDist, y2)(p.rate)).attr('fill', 'none').attr('stroke', PURPLE).attr('stroke-width', 8).attr('stroke-linejoin', 'round');

  // axes
  g.append('line').attr('x1', PL).attr('x2', PR).attr('y1', p.top).attr('y2', p.top).attr('stroke', '#000').attr('stroke-width', 9);
  g.append('line').attr('x1', PL).attr('x2', PR).attr('y1', p.bottom).attr('y2', p.bottom).attr('stroke', '#000').attr('stroke-width', 9);
  g.append('line').attr('x1', PL).attr('x2', PL).attr('y1', p.top - 4).attr('y2', p.bottom + 4).attr('stroke', '#000').attr('stroke-width', 9);
  g.append('line').attr('x1', PR).attr('x2', PR).attr('y1', p.top - 4).attr('y2', p.bottom + 4).attr('stroke', PURPLE).attr('stroke-width', 9);
  [2, 3, 4, 5].forEach(t => {
    g.append('line').attr('x1', xKm(t)).attr('x2', xKm(t)).attr('y1', p.top).attr('y2', p.top + 55).attr('stroke', '#000').attr('stroke-width', 9);
    g.append('line').attr('x1', xKm(t)).attr('x2', xKm(t)).attr('y1', p.bottom).attr('y2', p.bottom - 55).attr('stroke', '#000').attr('stroke-width', 9);
  });
  [-1, 0, 1, 2, 3, 4].forEach(t => {
    if (t > -1 && t < 4) g.append('line').attr('x1', PL).attr('x2', PL + 45).attr('y1', y(t)).attr('y2', y(t)).attr('stroke', '#000').attr('stroke-width', 9);
    txt(g, 214, y(t), String(t), { anchor: 'end', bold: true, size: 80 });
  });
  [1, 1.5, 2, 2.5, 3, 3.5, 4].forEach(t => {
    if (t > 1 && t < 4) g.append('line').attr('x1', PR).attr('x2', PR - 45).attr('y1', y2(t)).attr('y2', y2(t)).attr('stroke', PURPLE).attr('stroke-width', 9);
    txt(g, 4806, y2(t), String(t), { bold: true, size: 80, fill: PURPLE });
  });
  txt(g, 86, (p.top + p.bottom) / 2, 'Height (m)', { bold: true, size: 84, anchor: 'middle', rot: -90 });
  txt(g, 4978, (p.top + p.bottom) / 2, 'Photon rate', { bold: true, size: 86, anchor: 'middle', rot: -90, fill: PURPLE, ls: 1 });
  txt(g, 40, p.top + 2, p.label, { bold: true, size: 84 });

  // legend
  const lt = p.top + 50, lb = lt + 178, r1 = lt + 49, r2 = lt + 129;
  g.append('rect').attr('x', 1557).attr('y', lt).attr('width', 1904).attr('height', lb - lt)
    .attr('fill', '#fff').attr('stroke', '#000').attr('stroke-width', 8);
  g.append('rect').attr('x', 1671).attr('y', r1 - 7).attr('width', 18).attr('height', 15).attr('fill', '#c6c6c6');
  g.append('rect').attr('x', 2320).attr('y', r1 - 7).attr('width', 18).attr('height', 15).attr('fill', '#ffb6c0');
  [[2890, 3094, r1, '#000'], [1579, 1783, r2, RED], [2230, 2434, r2, BLUE], [2890, 3094, r2, PURPLE]].forEach(([a, b, yy, c]) =>
    g.append('line').attr('x1', a).attr('x2', b).attr('y1', yy).attr('y2', yy).attr('stroke', c).attr('stroke-width', 11));
  [[1802, r1, 'Noise photon'], [2454, r1, 'Signal photon'], [3114, r1, 'ATM'], [1802, r2, 'HRFM'], [2454, r2, 'ATL07'], [3114, r2, 'Photon rate']]
    .forEach(([x, yy, s]) => txt(g, x, yy, s, { size: 72 }));
}

profPanel({ top: 3264, bottom: 4313, label: '(e)', noise: eNoise, signal: eSignal.concat(eSignalBand),
  dist: eDist, hrfm: eHRFM, atm: eATM, atlDist: eAtlDist, atl: eAtl, rateDist: eRateDist, rate: eRate });
profPanel({ top: 4388, bottom: 5437, label: '(f)', noise: fNoise, signal: fSignal,
  dist: fDist, hrfm: fHRFM, atm: fATM, atlDist: fAtlDist, atl: fAtl, rateDist: fRateDist, rate: fRate });
[1, 2, 3, 4, 5, 6].forEach(t => txt(svg, xKm(t), 5512, String(t), { anchor: 'middle', bold: true, size: 80 }));
txt(svg, (PL + PR) / 2, 5603, 'Distance (km)', { anchor: 'middle', bold: true, size: 88 });

// ---- (g)(h) histograms ----
const HT = 5696, HB = 7202;
function histPanel(p) {
  const x = d3.scaleLinear().domain([0, 3]).range([p.left, p.right]);
  const y = d3.scaleLinear().domain([0, 0.2]).range([HB, HT]);
  const g = svg.append('g');
  const steps = vals => {
    const pts = [[0, 0]];
    vals.forEach((v, i) => { pts.push([i * binWidth, v], [(i + 1) * binWidth, v]); });
    pts.push([3, 0]);
    return pts;
  };
  const line = d3.line().x(d => x(d[0])).y(d => y(d[1]));
  [[p.hrfm, RED], [p.atm, '#000'], [p.atl, BLUE]].forEach(([vals, c]) =>
    g.append('path').attr('d', line(steps(vals))).attr('fill', 'none').attr('stroke', c).attr('stroke-width', 12));

  g.append('rect').attr('x', p.left).attr('y', HT).attr('width', p.right - p.left).attr('height', HB - HT)
    .attr('fill', 'none').attr('stroke', '#000').attr('stroke-width', 8);
  [0.5, 1, 1.5, 2, 2.5].forEach(t => {
    g.append('line').attr('x1', x(t)).attr('x2', x(t)).attr('y1', HB).attr('y2', HB - 32).attr('stroke', '#000').attr('stroke-width', 8);
    g.append('line').attr('x1', x(t)).attr('x2', x(t)).attr('y1', HT).attr('y2', HT + 32).attr('stroke', '#000').attr('stroke-width', 8);
  });
  g.append('line').attr('x1', p.left).attr('x2', p.left + 32).attr('y1', y(0.1)).attr('y2', y(0.1)).attr('stroke', '#000').attr('stroke-width', 8);
  g.append('line').attr('x1', p.right).attr('x2', p.right - 32).attr('y1', y(0.1)).attr('y2', y(0.1)).attr('stroke', '#000').attr('stroke-width', 8);
  [0, 0.5, 1, 1.5, 2, 2.5, 3].forEach(t => txt(g, x(t), 7263, String(t), { anchor: 'middle', size: 78 }));
  [0, 0.1, 0.2].forEach(t => txt(g, p.left - 14, y(t), String(t), { anchor: 'end', size: 78 }));
  txt(g, (p.left + p.right) / 2, 7350, 'height (m)', { anchor: 'middle', bold: true, size: 84 });
  txt(g, p.left - 162, (HT + HB) / 2, 'Probability', { anchor: 'middle', bold: true, size: 84, rot: -90, ls: 3 });
  txt(g, p.left - 222, 5703, p.label, { bold: true, size: 84 });

  // legend
  p.legend.forEach(([x0, x1, tx, s, c]) => {
    g.append('rect').attr('x', x0).attr('y', 5785).attr('width', x1 - x0).attr('height', 66)
      .attr('fill', 'none').attr('stroke', c).attr('stroke-width', 13);
    txt(g, tx, 5818, s, { size: 78 });
  });
  // statistics table
  statHeaders.forEach((s, i) => txt(g, p.cols[i], 6042, s, { anchor: 'middle', bold: true, size: 84 }));
  const rowCol = [TXT_RED, '#000', TXT_BLUE];
  p.stats.forEach((row, r) => row.forEach((s, i) =>
    txt(g, p.cols[i], [6194, 6348, 6500][r], s, { anchor: 'middle', size: 84, fill: rowCol[r] })));
  txt(g, p.cols[0], 6600, p.atlCount, { anchor: 'middle', size: 84, fill: TXT_BLUE });
}
histPanel({ left: 269, right: 2319, label: '(g)', hrfm: gHRFM, atm: gATM, atl: gATL07,
  legend: [[490, 781, 796, 'HRFM', RED], [1061, 1347, 1370, 'ATM', '#000'], [1577, 1864, 1883, 'ATL07', BLUE]],
  cols: [946, 1283, 1642, 2048], stats: gStats, atlCount: gAtlCount });
histPanel({ left: 2720, right: 4772, label: '(h)', hrfm: hHRFM, atm: hATM, atl: hATL07,
  legend: [[2944, 3228, 3248, 'HRFM', RED], [3515, 3800, 3821, 'ATM', '#000'], [4032, 4317, 4338, 'ATL07', BLUE]],
  cols: [3487, 3821, 4181, 4586], stats: hStats, atlCount: hAtlCount });
</script>
</body>
</html>
